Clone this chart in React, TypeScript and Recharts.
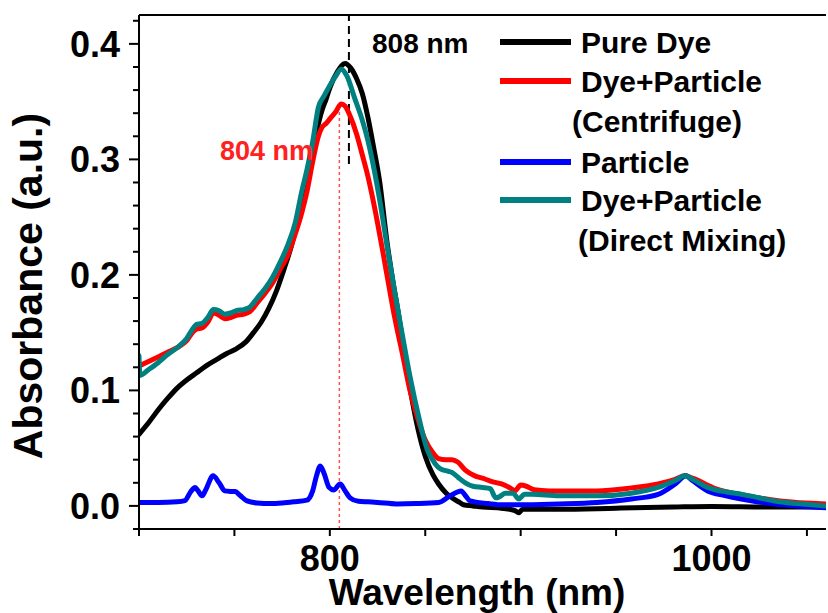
import React from 'react';
import { LineChart, Line, XAxis, YAxis, ReferenceLine } from 'recharts';

// ---------- data ----------
const pureDyeNm = [700, 705, 710, 715, 720, 725, 730, 735, 741, 746, 751, 756, 760, 764, 768, 772, 776, 780, 784, 788, 792, 796, 798, 800, 804, 808, 811, 814, 817, 820, 823, 826, 830, 833, 836, 839, 842, 846, 850, 854, 857, 861, 864, 868, 870, 875, 880, 890, 897, 899, 901, 920, 950, 980, 1000, 1030, 1060];
const pureDyeAbs = [0.062, 0.072, 0.083, 0.093, 0.102, 0.109, 0.115, 0.121, 0.127, 0.132, 0.136, 0.142, 0.15, 0.159, 0.171, 0.186, 0.205, 0.226, 0.255, 0.286, 0.317, 0.343, 0.352, 0.362, 0.376, 0.383, 0.379, 0.37, 0.357, 0.336, 0.31, 0.282, 0.228, 0.195, 0.166, 0.132, 0.102, 0.068, 0.043, 0.027, 0.019, 0.011, 0.007, 0.003, 0.001, 0.0, -0.001, -0.002, -0.004, -0.006, -0.003, -0.003, -0.002, -0.001, -0.0005, -0.001, -0.001];

const centrifugeNm = [700, 705, 710, 715, 720, 725, 728, 730, 733, 736, 739, 742, 745, 748, 751, 755, 758, 762, 766, 770, 774, 778, 782, 785, 788, 791, 794, 796, 798, 800, 803, 806, 808, 811, 814, 817, 820, 822, 825, 828, 831, 834, 838, 842, 846, 850, 854, 857, 861, 864, 867, 871, 876, 880, 885, 890, 895, 897, 900, 903, 907, 915, 940, 958, 972, 981, 986, 990, 1002, 1019, 1036, 1060];
const centrifugeAbs = [0.121, 0.125, 0.129, 0.133, 0.137, 0.143, 0.15, 0.153, 0.154, 0.159, 0.167, 0.165, 0.162, 0.163, 0.165, 0.166, 0.168, 0.176, 0.184, 0.193, 0.205, 0.217, 0.236, 0.252, 0.272, 0.298, 0.32, 0.328, 0.331, 0.335, 0.341, 0.348, 0.346, 0.336, 0.322, 0.304, 0.285, 0.27, 0.245, 0.218, 0.19, 0.163, 0.132, 0.1, 0.076, 0.057, 0.046, 0.041, 0.04, 0.04, 0.038, 0.031, 0.026, 0.024, 0.021, 0.019, 0.015, 0.013, 0.018, 0.017, 0.014, 0.013, 0.013, 0.0156, 0.019, 0.023, 0.026, 0.024, 0.015, 0.0087, 0.0043, 0.0017];

const particleNm = [700, 710, 720, 724, 727, 729.4, 731, 733, 735, 738.8, 742, 745, 748, 750.4, 753, 756.6, 762, 769, 775, 781, 788, 791, 793, 795, 797, 799.6, 802, 805.4, 808, 810.6, 815, 820, 825, 835, 845, 857, 863, 868.8, 871, 873.5, 883, 890, 920, 940, 958, 972, 981, 986.6, 990, 998, 1007, 1015.6, 1033, 1045, 1060];
const particleAbs = [0.003, 0.003, 0.0035, 0.0045, 0.012, 0.016, 0.013, 0.0087, 0.014, 0.026, 0.02, 0.013, 0.0125, 0.0124, 0.009, 0.0043, 0.0025, 0.002, 0.0025, 0.0035, 0.005, 0.013, 0.026, 0.0346, 0.028, 0.016, 0.0138, 0.019, 0.013, 0.007, 0.004, 0.0035, 0.003, 0.0017, 0.002, 0.003, 0.0087, 0.013, 0.009, 0.0043, 0.002, 0.0009, 0.0017, 0.003, 0.006, 0.01, 0.019, 0.026, 0.022, 0.013, 0.009, 0.006, 0.0017, 0.0, -0.0015];

const directMixNm = [700, 700.5, 705, 710, 715, 720, 725, 728, 730, 733, 736, 739, 742, 745, 748, 751, 755, 758, 762, 766, 770, 774, 778, 782, 785, 788, 791, 794, 797, 800, 803, 806, 809, 813, 817, 820, 823, 826, 830, 834, 838, 842, 847, 851, 855, 858, 862, 864, 867, 871, 875, 880, 884, 887, 889, 892, 896, 899, 902, 906, 920, 940, 958, 972, 981, 986, 990, 998, 1008, 1016, 1025, 1033, 1045, 1060];
const directMixAbs = [0.13, 0.113, 0.118, 0.124, 0.131, 0.137, 0.145, 0.153, 0.157, 0.158, 0.163, 0.17, 0.169, 0.166, 0.167, 0.169, 0.17, 0.172, 0.18, 0.188, 0.198, 0.211, 0.226, 0.246, 0.27, 0.291, 0.315, 0.345, 0.355, 0.364, 0.372, 0.378, 0.372, 0.353, 0.334, 0.316, 0.293, 0.266, 0.225, 0.185, 0.148, 0.112, 0.074, 0.049, 0.037, 0.032, 0.03, 0.029, 0.025, 0.02, 0.017, 0.016, 0.015, 0.007, 0.008, 0.011, 0.011, 0.006, 0.01, 0.01, 0.0087, 0.0087, 0.011, 0.016, 0.022, 0.026, 0.023, 0.016, 0.012, 0.01, 0.007, 0.0043, 0.002, 0.0];

const xTicks = [700, 750, 800, 850, 900, 950, 1000, 1050];
const xTickLabels: Record<number, string> = { 800: '800', 1000: '1000' };
const yTicks = [-0.02, 0, 0.02, 0.04, 0.06, 0.08, 0.1, 0.12, 0.14, 0.16, 0.18, 0.2, 0.22, 0.24, 0.26, 0.28, 0.3, 0.32, 0.34, 0.36, 0.38, 0.4, 0.42];
const yTickLabels: Record<string, string> = { '0': '0.0', '0.1': '0.1', '0.2': '0.2', '0.3': '0.3', '0.4': '0.4' };

const pureDyePeak = 810;
const centrifugePeak = 805;

const seriesNames = ['Pure Dye', 'Dye+Particle', 'Particle', 'Dye+Particle'];
const seriesSub = ['', '(Centrifuge)', '', '(Direct Mixing)'];
const seriesColors = ['#000000', '#ff0000', '#0000ff', '#008080'];

const zip = (nm: number[], abs: number[]) => nm.map((x, i) => ({ nm: x, abs: abs[i] }));

const FONT = '"Liberation Sans", Arial, Helvetica, sans-serif';

const XTick = (props: any) => {
  const { x, y, payload } = props;
  const label = xTickLabels[payload.value];
  return (
    <g>
      <line x1={x} x2={x} y1={y} y2={y + 7} stroke="#000" strokeWidth={2} />
      {label ? (
        <text x={x} y={y + 42} textAnchor="middle" fontFamily={FONT} fontWeight="bold" fontSize={36} fill="#000">
          {label}
        </text>
      ) : null}
    </g>
  );
};

const YTick = (props: any) => {
  const { x, y, payload } = props;
  const key = String(Math.round(payload.value * 100) / 100);
  const label = yTickLabels[key];
  const len = label ? 10 : 6;
  return (
    <g>
      <line x1={x - len} x2={x} y1={y} y2={y} stroke="#000" strokeWidth={2} />
      {label ? (
        <text x={x - 19} y={y + 13} textAnchor="end" fontFamily={FONT} fontWeight="bold" fontSize={36} fill="#000">
          {label}
        </text>
      ) : null}
    </g>
  );
};

export default function App() {
  const series = [
    zip(pureDyeNm, pureDyeAbs),
    zip(centrifugeNm, centrifugeAbs),
    zip(particleNm, particleAbs),
    zip(directMixNm, directMixAbs),
  ];
  const legendY = [42, 81, 162, 200];
  return (
    <div style={{ position: 'absolute', left: 0, top: 0, width: 828, height: 613, background: '#fff', overflow: 'hidden' }}>
      <LineChart width={828} height={613} margin={{ top: 15, right: 2, bottom: 0, left: 0 }}>
        <XAxis
          type="number"
          dataKey="nm"
          domain={[700, 1060]}
          ticks={xTicks}
          allowDataOverflow
          height={84}
          tickSize={0}
          tickMargin={0}
          tickLine={false}
          axisLine={{ stroke: '#000', strokeWidth: 2 }}
          tick={<XTick />}
          interval={0}
          label={() => (
            <text x={477} y={605} textAnchor="middle" fontFamily={FONT} fontWeight="bold" fontSize={37} fill="#000">
              Wavelength (nm)
            </text>
          )}
        />
        <YAxis
          type="number"
          domain={[-0.02, 0.425]}
          ticks={yTicks}
          allowDataOverflow
          width={139}
          tickSize={0}
          tickMargin={0}
          tickLine={false}
          axisLine={{ stroke: '#000', strokeWidth: 2 }}
          tick={<YTick />}
          interval={0}
          label={() => (
            <text
              x={42}
              y={286}
              transform="rotate(-90, 42, 286)"
              textAnchor="middle"
              fontFamily={FONT}
              fontWeight="bold"
              fontSize={41}
              fill="#000"
            >
              Absorbance (a.u.)
            </text>
          )}
        />
        <ReferenceLine y={0.425} stroke="#000" strokeWidth={2} />
        <ReferenceLine
          segment={[{ x: centrifugePeak, y: -0.02 }, { x: centrifugePeak, y: 0.348 }]}
          stroke="#ff5050"
          strokeWidth={1.5}
          strokeDasharray="3 3"
        />
        <ReferenceLine
          segment={[{ x: pureDyePeak, y: 0.296 }, { x: pureDyePeak, y: 0.425 }]}
          stroke="#000"
          strokeWidth={2}
          strokeDasharray="8 5"
        />
        {series.map((d, i) => (
          <Line
            key={i}
            data={d}
            dataKey="abs"
            type="monotone"
            stroke={seriesColors[i]}
            strokeWidth={5}
            dot={false}
            activeDot={false}
            isAnimationActive={false}
            strokeLinejoin="round"
            strokeLinecap="round"
          />
        ))}
      </LineChart>
      <svg width={828} height={613} style={{ position: 'absolute', left: 0, top: 0, pointerEvents: 'none' }}>
        <text x={372} y={53} fontFamily={FONT} fontWeight="bold" fontSize={28} fill="#000">808 nm</text>
        <text x={220} y={160} fontFamily={FONT} fontWeight="bold" fontSize={27} fill="#ff2020">804 nm</text>
        {seriesNames.map((name, i) => (
          <g key={i}>
            <line x1={500} x2={571} y1={legendY[i]} y2={legendY[i]} stroke={seriesColors[i]} strokeWidth={6} />
            <text x={581} y={legendY[i] + 11} fontFamily={FONT} fontWeight="bold" fontSize={30} fill="#000">
              {name}
            </text>
            {seriesSub[i] ? (
              <text x={i === 1 ? 572 : 578} y={legendY[i] + 51} fontFamily={FONT} fontWeight="bold" fontSize={30} fill="#000">
                {seriesSub[i]}
              </text>
            ) : null}
          </g>
        ))}
      </svg>
    </div>
  );
}
